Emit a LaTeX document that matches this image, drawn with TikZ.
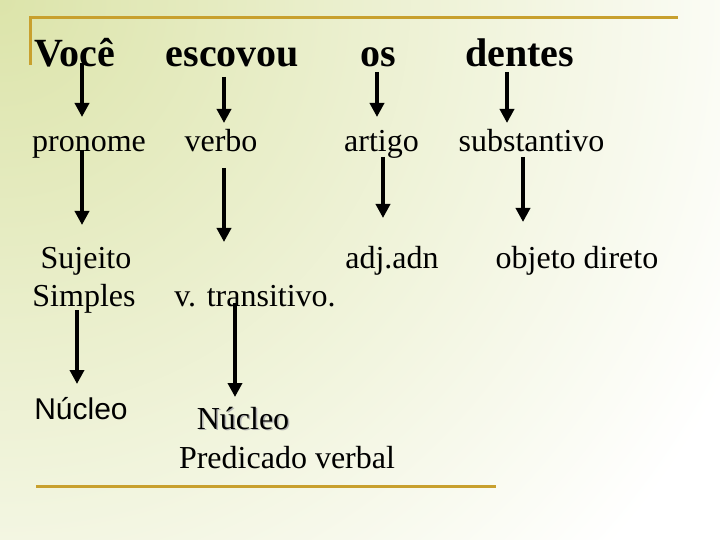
\documentclass[tikz,border=0pt]{standalone}
\usepackage{fontspec}
\setmainfont{Liberation Serif}
\newfontfamily\arialfont{Liberation Sans}
\usepackage{xcolor}
\usetikzlibrary{arrows.meta,shadings}
\definecolor{ouro}{HTML}{C8A02E}
\definecolor{fundo}{HTML}{DCE4AA}

\begin{document}
\begin{tikzpicture}[x=1pt,y=-1pt,
    titulo/.style={anchor=base,inner sep=0pt,font=\fontsize{40}{46}\selectfont\bfseries},
    palavra/.style={anchor=base,inner sep=0pt,font=\fontsize{32}{38}\selectfont},
    seta/.style={line width=4pt,-{Triangle[length=14pt,width=14pt]}},
    borda/.style={ouro,line width=3pt}]
    \useasboundingbox (0,0) rectangle (720,540);
    % Fundo
    \begin{scope}
        \clip (0,0) rectangle (720,540);
        \shade[inner color=fundo,outer color=white] (0,0) circle (820);
    \end{scope}
    \draw[borda] (30,65) -- (30,18) -- (678,18);
    \draw[borda] (36,486) -- (496,486);

    % Frase
    \node[titulo] (voce) at (74.5,67) {Você};
    \node[titulo] (escovou) at (232.5,67) {escovou};
    \node[titulo] (os) at (378,67) {os};
    \node[titulo] (dentes) at (519.5,67) {dentes};

    % Classes
    \node[palavra] (pronome) at (89,152) {pronome};
    \node[palavra] (verbo) at (221,152) {verbo};
    \node[palavra] (artigo) at (381.5,152) {artigo};
    \node[palavra] (substantivo) at (531.5,152) {substantivo};

    % Funcoes
    \node[palavra] (sujeito) at (86,268) {Sujeito};
    \node[palavra] (simples) at (84,306) {Simples};
    \node[palavra] (vtrans) at (255,306) {v. transitivo.};
    \node[palavra] (adjadn) at (392,268) {adj.adn};
    \node[palavra] (objeto) at (577,268) {objeto direto};

    % Nucleos
    \node[palavra,font=\fontsize{30}{36}\selectfont\arialfont] (nucleoa) at (81,419) {Núcleo};
    \node[palavra,gray!60] (sombra) at (244.5,430.5) {Núcleo};
    \node[palavra] (nucleob) at (243,429) {Núcleo};
    \node[palavra] (predicado) at (287,468) {Predicado verbal};

    % Setas
    \draw[seta] ([xshift=7.5pt,yshift=4pt]voce.base) -- ([xshift=-7pt,yshift=35pt]pronome.base);
    \draw[seta] ([xshift=-8.5pt,yshift=-10pt]escovou.base) -- ([xshift=3pt,yshift=29pt]verbo.base);
    \draw[seta] ([xshift=-1pt,yshift=-5pt]os.base) -- ([xshift=-4.5pt,yshift=35pt]artigo.base);
    \draw[seta] ([xshift=-12.5pt,yshift=-5pt]dentes.base) -- ([xshift=-24.5pt,yshift=29pt]substantivo.base);
    \draw[seta] ([xshift=-7pt,yshift=2pt]pronome.base) -- ([xshift=-4pt,yshift=43pt]sujeito.base);
    \draw[seta] ([xshift=3pt,yshift=-16pt]verbo.base) -- ([xshift=-31pt,yshift=64pt]vtrans.base);
    \draw[seta] ([xshift=1.5pt,yshift=-5pt]artigo.base) -- ([xshift=-9pt,yshift=50pt]adjadn.base);
    \draw[seta] ([xshift=-8.5pt,yshift=-5pt]substantivo.base) -- ([xshift=-54pt,yshift=46pt]objeto.base);
    \draw[seta] ([xshift=-7pt,yshift=-4pt]simples.base) -- ([xshift=-4pt,yshift=35pt]nucleoa.base);
    \draw[seta] ([xshift=-20pt,yshift=3pt]vtrans.base) -- ([xshift=-8pt,yshift=32pt]nucleob.base);
\end{tikzpicture}
\end{document}
